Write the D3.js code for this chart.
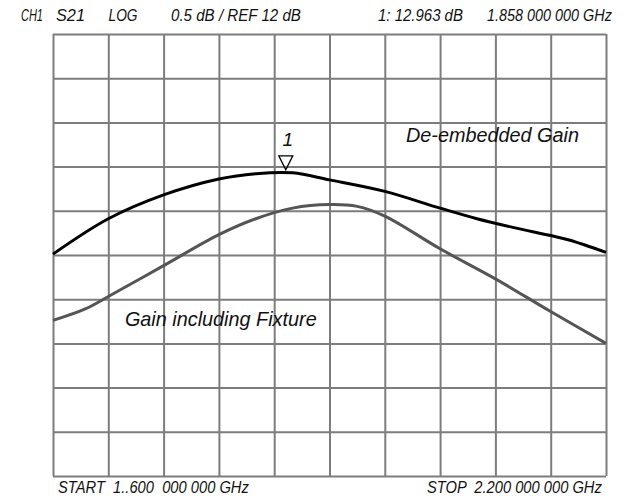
<!DOCTYPE html>
<html>
<head>
<meta charset="utf-8">
<script src="https://cdn.jsdelivr.net/npm/d3@7"></script>
<style>
  body { margin: 0; background: #fff; }
  text { font-family: "Liberation Sans Narrow", "Liberation Sans", Arial, sans-serif; font-style: italic; fill: #111; white-space: pre; }
</style>
</head>
<body>
<div id="chart"></div>
<script>
// sweep 1.6 - 2.2 GHz, 0.5 dB/div, ref 12 dB at centre line
const xTicks = d3.range(11).map(i => 1.6 + i * 0.06);
const yTicks = d3.range(11).map(i => 9.5 + i * 0.5);

// de-embedded gain (black)
const deembFreq = [1.60, 1.66, 1.72, 1.78, 1.82, 1.86, 1.90, 1.96, 2.02, 2.06, 2.10, 2.14, 2.16, 2.20];
const deembGain = [12.01, 12.41, 12.68, 12.86, 12.92, 12.93, 12.85, 12.72, 12.53, 12.41, 12.31, 12.22, 12.17, 12.03];

// gain including fixture (grey)
const fixtFreq = [1.60, 1.635, 1.66, 1.72, 1.78, 1.82, 1.86, 1.90, 1.93, 1.96, 2.02, 2.08, 2.14, 2.20];
const fixtGain = [11.26, 11.39, 11.53, 11.88, 12.23, 12.41, 12.53, 12.57, 12.55, 12.44, 12.07, 11.73, 11.36, 11.00];

const markerFreq = 1.858;
const markerGain = 12.963;

const headerLabels = ["CH1", "S21", "LOG", "0.5 dB / REF 12 dB", "1: 12.963 dB", "1.858 000 000 GHz"];
const footerLabels = ["START  1..600  000 000 GHz", "STOP  2.200 000 000 GHz"];

const W = 628, H = 499;
const margin = { top: 34, right: 22, bottom: 23, left: 53 };
const width = W - margin.left - margin.right;
const height = H - margin.top - margin.bottom;

const svg = d3.select("#chart").append("svg")
  .attr("width", W)
  .attr("height", H);

const g = svg.append("g")
  .attr("transform", `translate(${margin.left}, ${margin.top})`);

const x = d3.scaleLinear().domain([1.6, 2.2]).range([0, width]);
const y = d3.scaleLinear().domain([9.5, 14.5]).range([height, 0]);

const gridColor = "#7d7d7d";

// vertical grid
g.append("g")
  .attr("transform", `translate(0, ${height})`)
  .call(d3.axisBottom(x).tickValues(xTicks).tickSize(-height).tickFormat(""))
  .call(a => a.select(".domain").remove())
  .call(a => a.selectAll("line").attr("stroke", gridColor).attr("stroke-width", 2));

// horizontal grid
g.append("g")
  .call(d3.axisLeft(y).tickValues(yTicks).tickSize(-width).tickFormat(""))
  .call(a => a.select(".domain").remove())
  .call(a => a.selectAll("line").attr("stroke", gridColor).attr("stroke-width", 2));

const line = d3.line()
  .x(d => x(d[0]))
  .y(d => y(d[1]))
  .curve(d3.curveCatmullRom);

g.append("path")
  .datum(fixtFreq.map((f, i) => [f, fixtGain[i]]))
  .attr("fill", "none")
  .attr("stroke", "#555")
  .attr("stroke-width", 3)
  .attr("d", line);

g.append("path")
  .datum(deembFreq.map((f, i) => [f, deembGain[i]]))
  .attr("fill", "none")
  .attr("stroke", "#000")
  .attr("stroke-width", 3)
  .attr("d", line);

// condensed look: squeeze a text horizontally to a given width
function narrowText(sel, px, py, w) {
  sel.each(function(d, i) {
    const t = d3.select(this);
    const tx = typeof px === "function" ? px(d, i) : px;
    const tw = typeof w === "function" ? w(d, i) : w;
    const natural = this.getComputedTextLength();
    t.attr("transform", `translate(${tx}, ${py}) scale(${tw / natural}, 1)`);
  });
}

// marker triangle + number
const mx = x(markerFreq) - 5;
const my = y(markerGain) + 1;
g.append("path")
  .attr("d", `M${mx - 7},${my - 15} L${mx + 7},${my - 15} L${mx},${my - 1} Z`)
  .attr("fill", "none")
  .attr("stroke", "#000")
  .attr("stroke-width", 1.3);
g.append("text")
  .attr("x", mx + 2)
  .attr("y", my - 25)
  .attr("text-anchor", "middle")
  .style("font-size", "19px")
  .text("1");

// trace labels
g.append("text")
  .style("font-size", "20px")
  .text("De-embedded Gain")
  .call(narrowText, x(1.983), y(13.28), 173);

g.append("text")
  .style("font-size", "20px")
  .text("Gain including Fixture")
  .call(narrowText, x(1.678), y(11.2), 192);

// header
const headerX = [21, 56, 108.5, 171, 378, 487];
const headerW = [22, 29, 29, 130, 85, 125];
svg.append("g").selectAll("text")
  .data(headerLabels)
  .join("text")
  .style("font-size", "17px")
  .text(d => d)
  .call(narrowText, (d, i) => headerX[i], 21, (d, i) => headerW[i]);

// footer
const footerX = [58, 427];
const footerW = [191, 175];
svg.append("g").selectAll("text")
  .data(footerLabels)
  .join("text")
  .style("font-size", "17px")
  .text(d => d)
  .call(narrowText, (d, i) => footerX[i], 493, (d, i) => footerW[i]);
</script>
</body>
</html>
